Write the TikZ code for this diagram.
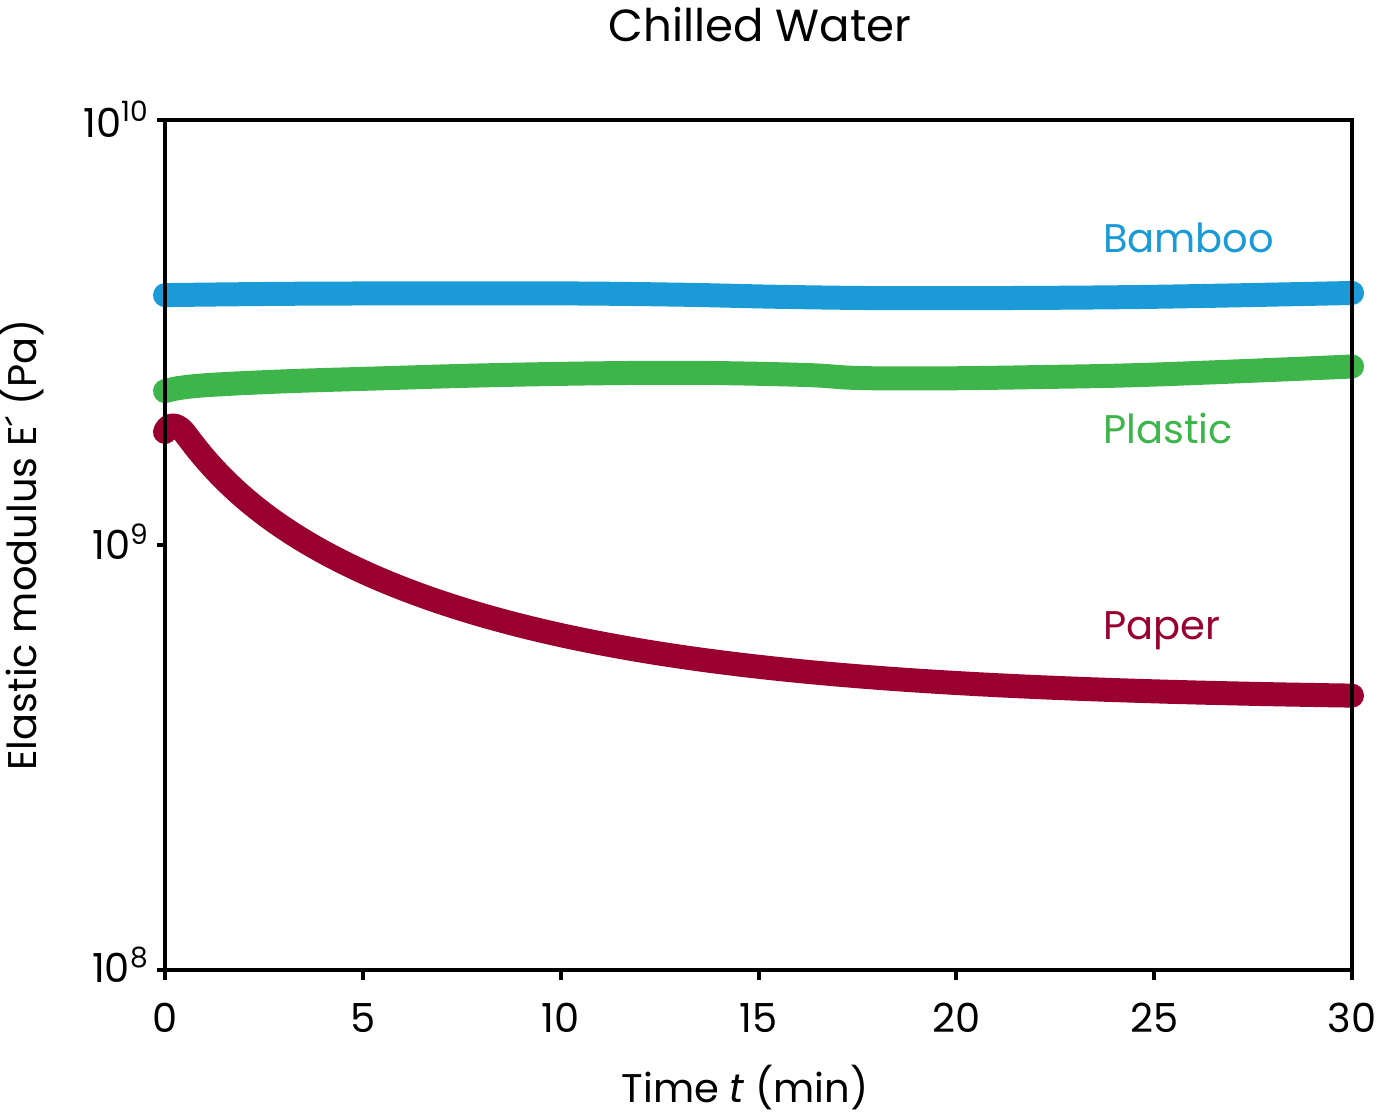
\documentclass[tikz,border=0pt]{standalone}
\usepackage{fontspec}
\setmainfont{Poppins}
\definecolor{bamboo}{HTML}{1A9BD7}
\definecolor{plastic}{HTML}{3DB54A}
\definecolor{paper}{HTML}{990030}
\tikzset{
  curve/.style={line width=12pt, line cap=round, line join=round},
  ticklab/.style={font=\fontsize{20}{24}\selectfont, inner sep=0pt},
  axlab/.style={font=\fontsize{20}{24}\selectfont, inner sep=0pt},
  curvelab/.style={font=\fontsize{20}{24}\selectfont, inner sep=0pt, anchor=west}
}

\begin{document}
\begin{tikzpicture}[x=19.785pt, y=212.5pt]
			%%%%% START %%%%%
			\useasboundingbox (-4.170,-0.3435) rectangle (30.63,2.2824);
			
			\node[axlab, font=\fontsize{22.5}{26}\selectfont] (title) at (15.04, 2.2235) {Chilled Water};
			
			% curves (x: min, y: log10 E' - 8)
			\draw[curve, color=bamboo] plot[smooth, tension=0.6] coordinates {
				(0,1.588) (3,1.591) (6,1.592) (10,1.592) (13,1.589) (15.5,1.584)
				(18,1.581) (21,1.581) (25,1.584) (30,1.593)};
			\draw[curve, color=plastic] plot[smooth, tension=0.6] coordinates {
				(0,1.362) (0.4,1.370) (1.2,1.377) (3,1.385) (5.4,1.392) (8,1.399)
				(11,1.404) (13.5,1.405) (16.2,1.400) (17.5,1.393) (19.5,1.392)
				(22,1.395) (25,1.401) (30,1.420)};
			\draw[curve, color=paper] (0,1.266) .. controls (0.1,1.29) and (0.35,1.285) .. (0.55,1.257)
				-- plot[domain=0.55:30, samples=120, smooth] (\x, {0.635+0.58*exp(-\x/7.5)+0.12*exp(-\x/1.5)});
			
			% frame and ticks
			\draw[line width=2pt] (0,0) rectangle (30,2);
			\draw[line width=2pt] (0,0) -- (0,-0.0235);
			\draw[line width=2pt] (5,0) -- (5,-0.0235);
			\draw[line width=2pt] (10,0) -- (10,-0.0235);
			\draw[line width=2pt] (15,0) -- (15,-0.0235);
			\draw[line width=2pt] (20,0) -- (20,-0.0235);
			\draw[line width=2pt] (25,0) -- (25,-0.0235);
			\draw[line width=2pt] (30,0) -- (30,-0.0235);
			\draw[line width=2pt] (0,0) -- (-0.2,0);
			\draw[line width=2pt] (0,1) -- (-0.2,1);
			\draw[line width=2pt] (0,2) -- (-0.2,2);
			
			\node[ticklab, anchor=base] (t0) at (0,-0.146) {0};
			\node[ticklab, anchor=base] (t5) at (5,-0.146) {5};
			\node[ticklab, anchor=base] (t10) at (10,-0.146) {10};
			\node[ticklab, anchor=base] (t15) at (15,-0.146) {15};
			\node[ticklab, anchor=base] (t20) at (20,-0.146) {20};
			\node[ticklab, anchor=base] (t25) at (25,-0.146) {25};
			\node[ticklab, anchor=base] (t30) at (30,-0.146) {30};
			
			\node[ticklab, anchor=base east] (e8) at (-0.4,-0.030) {10$^{\mathrm{8}}$};
			\node[ticklab, anchor=base east] (e9) at (-0.4,0.965) {10$^{\mathrm{9}}$};
			\node[ticklab, anchor=base east] (e10) at (-0.4,1.960) {10$^{\mathrm{10}}$};
			
			\node[axlab] (xlab) at (14.66,-0.2776) {Time \textit{t} (min)};
			\node[axlab, rotate=90] (ylab) at (-3.614,1.0) {Elastic modulus E´ (Pa)};
			
			\node[curvelab, color=bamboo] (lbamboo) at (23.70,1.722) {Bamboo};
			\node[curvelab, color=plastic] (lplastic) at (23.70,1.275) {Plastic};
			\node[curvelab, color=paper] (lpaper) at (23.70,0.798) {Paper};
			
			%%%%% END %%%%%
\end{tikzpicture}
\end{document}
